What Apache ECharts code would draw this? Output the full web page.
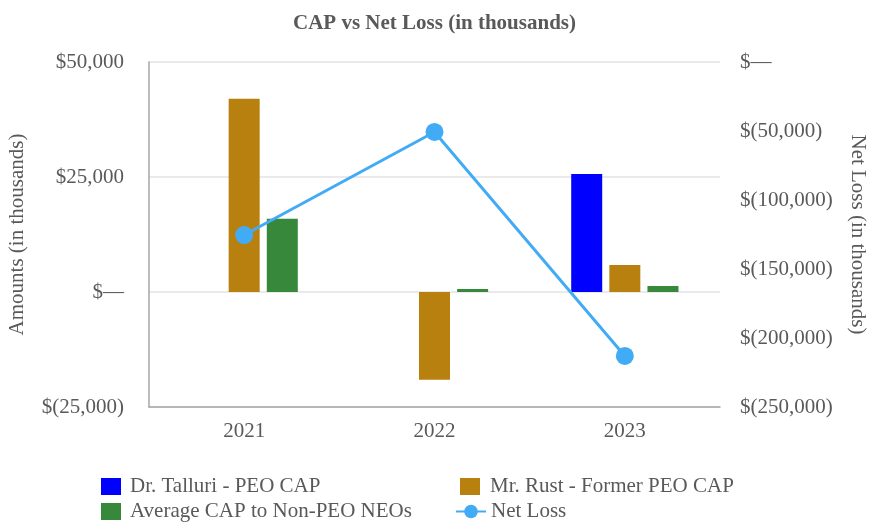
<!DOCTYPE html>
<html>
<head>
<meta charset="utf-8">
<script src="https://cdn.jsdelivr.net/npm/echarts@6/dist/echarts.min.js"></script>
<style>
  * { margin: 0; padding: 0; }
  body { background: #fff; }
</style>
</head>
<body>
<div id="chart" style="width:869px;height:525px;"></div>
<script>
  // 数据
  const years = ['2021', '2022', '2023'];
  const tallurCap = ['-', '-', 25650];
  const rustCap = [42000, -19100, 5870];
  const neoCap = [15900, 650, 1300];
  const netLoss = [-125400, -50700, -213000];

  const font = 'Liberation Serif';
  const grey = '#595959';

  // $50,000 / $— / $(25,000)
  function money(v) {
    if (v === 0) return '$\u2014';
    const s = Math.abs(v).toLocaleString('en-US');
    return v < 0 ? '$(' + s + ')' : '$' + s;
  }

  // 每个图例单独放置，拼成两列
  function legendItem(name, left, top, width, icon, pad) {
    const item = { name: name };
    if (icon) item.icon = icon;
    return {
      left: left,
      top: top,
      padding: 0,
      itemWidth: width,
      itemHeight: 17,
      data: [item],
      textStyle: { fontFamily: font, fontSize: 21, lineHeight: 21, color: grey, padding: [0, 0, 0, pad] }
    };
  }

  const chart = echarts.init(document.getElementById('chart'));
  const option = {
    animation: false,
    title: {
      text: 'CAP vs Net Loss (in thousands)',
      left: 'center',
      top: 8,
      textStyle: { fontFamily: font, fontSize: 21, fontWeight: 'bold', color: grey }
    },
    grid: { left: 149, right: 149, top: 62, bottom: 118, outerBoundsMode: 'none' },
    legend: [
      legendItem('Dr. Talluri - PEO CAP', 101, 476, 20, 'rect', 4),
      legendItem('Average CAP to Non-PEO NEOs', 101, 501, 20, 'rect', 4),
      legendItem('Mr. Rust - Former PEO CAP', 460, 476, 20, 'rect', 5),
      legendItem('Net Loss', 455, 501, 30, null, 0)
    ],
    xAxis: {
      type: 'category',
      data: years,
      axisLine: { onZero: false, lineStyle: { color: '#a6a6a6', width: 1.5 } },
      axisTick: { show: false },
      axisLabel: { fontFamily: font, fontSize: 21, color: grey, margin: 14 }
    },
    yAxis: [
      {
        type: 'value',
        min: -25000,
        max: 50000,
        interval: 25000,
        name: 'Amounts (in thousands)',
        nameLocation: 'middle',
        nameGap: 121,
        nameRotate: 90,
        nameTextStyle: { fontFamily: font, fontSize: 21, color: grey },
        axisLine: { show: true, lineStyle: { color: '#a6a6a6', width: 1.5 } },
        axisTick: { show: false },
        splitLine: { lineStyle: { color: '#e3e3e3', width: 1.5 } },
        axisLabel: { fontFamily: font, fontSize: 21, color: grey, margin: 25, formatter: money }
      },
      {
        type: 'value',
        min: -250000,
        max: 0,
        interval: 50000,
        position: 'right',
        name: 'Net Loss (in thousands)',
        nameLocation: 'middle',
        nameGap: 127,
        nameRotate: -90,
        nameTextStyle: { fontFamily: font, fontSize: 21, color: grey },
        axisLine: { show: false },
        axisTick: { show: false },
        splitLine: { show: false },
        axisLabel: { fontFamily: font, fontSize: 21, color: grey, margin: 20, formatter: money }
      }
    ],
    series: [
      {
        name: 'Dr. Talluri - PEO CAP',
        type: 'bar',
        data: tallurCap,
        barWidth: 31,
        barGap: '23%',
        itemStyle: { color: '#0000ff' }
      },
      {
        name: 'Mr. Rust - Former PEO CAP',
        type: 'bar',
        data: rustCap,
        barWidth: 31,
        barGap: '23%',
        itemStyle: { color: '#b8800f' }
      },
      {
        name: 'Average CAP to Non-PEO NEOs',
        type: 'bar',
        data: neoCap,
        barWidth: 31,
        barGap: '23%',
        itemStyle: { color: '#37883a' }
      },
      {
        name: 'Net Loss',
        type: 'line',
        yAxisIndex: 1,
        data: netLoss,
        symbol: 'circle',
        symbolSize: 18,
        z: 5,
        lineStyle: { color: '#42abf5', width: 3 },
        itemStyle: { color: '#42abf5' }
      }
    ]
  };
  chart.setOption(option);
</script>
</body>
</html>
